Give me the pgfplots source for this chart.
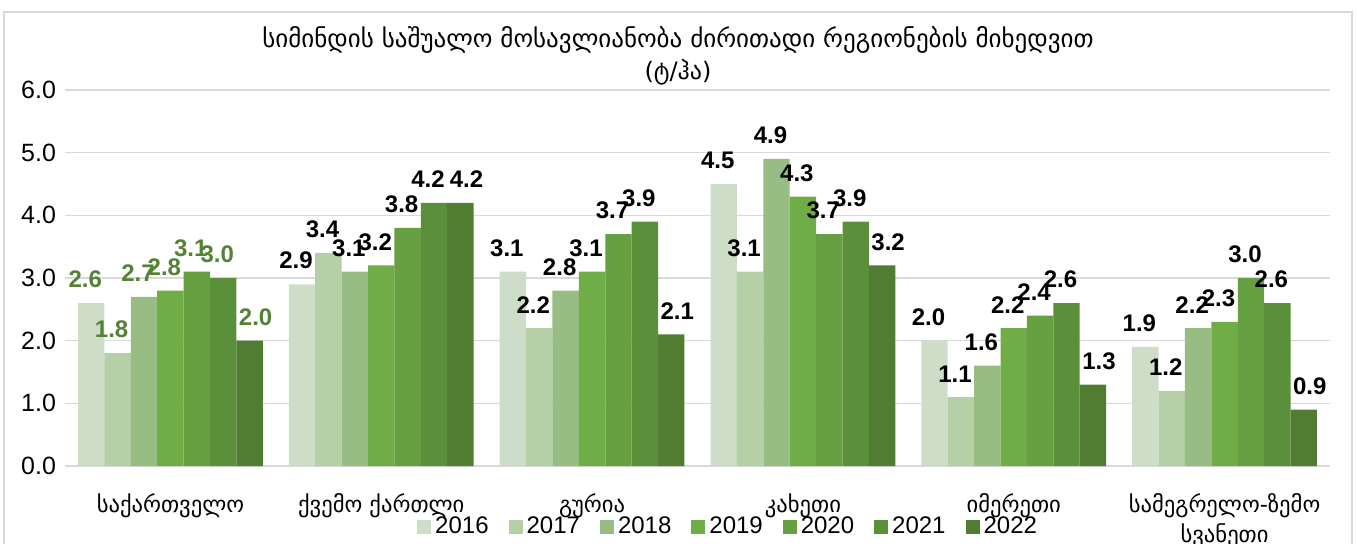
\documentclass[border=0pt]{standalone}
\usepackage{fontspec}
\setmainfont{Liberation Sans}
\newfontfamily\geo{DejaVu Sans}
\usepackage{pgfplots}
\pgfplotsset{compat=1.18}
\definecolor{c16}{HTML}{CDDDC8}
\definecolor{c17}{HTML}{B5CFA6}
\definecolor{c18}{HTML}{97BD84}
\definecolor{c19}{HTML}{70AD47}
\definecolor{c20}{HTML}{67A041}
\definecolor{c21}{HTML}{5B8F3A}
\definecolor{c22}{HTML}{507D32}
\definecolor{lblgreen}{HTML}{548235}
\definecolor{gridgray}{HTML}{D9D9D9}

\begin{document}
\begin{tikzpicture}
\useasboundingbox (-32.5pt,-38.5pt) rectangle (646pt,233pt);
\draw[gridgray, line width=1pt] (-30.5pt,-50pt) -- (-30.5pt,227pt) -- (643.5pt,227pt) -- (643.5pt,-50pt);
\begin{axis}[
    at={(0,0)}, anchor=south west,
    scale only axis, clip=false,
    width=632.5pt, height=188pt,
    ybar=0pt, bar width=13.2pt,
    xmin=-0.5, xmax=5.5,
    ymin=0, ymax=6,
    ytick={0,1,2,3,4,5,6},
    xtick=data,
    xticklabels={საქართველო, ქვემო ქართლი, გურია, კახეთი, იმერეთი, {სამეგრელო-ზემო\\სვანეთი}},
    xticklabel style={align=center, font=\geo\fontsize{11.3}{15}\selectfont, yshift=-6pt},
    yticklabel style={font=\fontsize{12.5}{14}\selectfont, xshift=-1pt,
        /pgf/number format/fixed, /pgf/number format/fixed zerofill,
        /pgf/number format/precision=1},
    /pgf/number format/assume math mode=true,
    axis line style={draw=none},
    tick style={draw=none},
    ymajorgrids,
    grid style={gridgray, line width=0.8pt},
    visualization depends on=x \as \xval,
    nodes near coords={\ifdim\xval pt<0.5pt\color{lblgreen}\fi\pgfmathprintnumber[fixed,fixed zerofill,precision=1]{\pgfplotspointmeta}},
    nodes near coords style={font=\bfseries\fontsize{12}{13}\selectfont, anchor=south, yshift=4pt, xshift=-3pt},
    every axis plot/.append style={draw=none},
    legend style={at={(rel axis cs:0.525,0)}, anchor=center, yshift=-30.5pt,
        draw=none, fill=none, legend columns=7,
        font=\fontsize{12}{13}\selectfont,
        /tikz/every even column/.append style={column sep=8pt}},
    legend image code/.code={\fill[#1] (0pt,-3.5pt) rectangle (7pt,3.5pt);},
]
\addplot[fill=c16] coordinates {(0,2.6) (1,2.9) (2,3.1) (3,4.5) (4,2.0) (5,1.9)};
\addplot[fill=c17] coordinates {(0,1.8) (1,3.4) (2,2.2) (3,3.1) (4,1.1) (5,1.2)};
\addplot[fill=c18] coordinates {(0,2.7) (1,3.1) (2,2.8) (3,4.9) (4,1.6) (5,2.2)};
\addplot[fill=c19] coordinates {(0,2.8) (1,3.2) (2,3.1) (3,4.3) (4,2.2) (5,2.3)};
\addplot[fill=c20] coordinates {(0,3.1) (1,3.8) (2,3.7) (3,3.7) (4,2.4) (5,3.0)};
\addplot[fill=c21] coordinates {(0,3.0) (1,4.2) (2,3.9) (3,3.9) (4,2.6) (5,2.6)};
\addplot[fill=c22, nodes near coords style={xshift=6pt}] coordinates {(0,2.0) (1,4.2) (2,2.1) (3,3.2) (4,1.3) (5,0.9)};
\legend{2016,2017,2018,2019,2020,2021,2022}
\node[font=\geo\fontsize{12.5}{14}\selectfont] at (rel axis cs:0.4846,1) [yshift=25pt] {სიმინდის საშუალო მოსავლიანობა ძირითადი რეგიონების მიხედვით};
\node[font=\geo\fontsize{12}{13}\selectfont] at (rel axis cs:0.4846,1) [yshift=9pt] {(ტ/ჰა)};
\end{axis}
\end{tikzpicture}
\end{document}
